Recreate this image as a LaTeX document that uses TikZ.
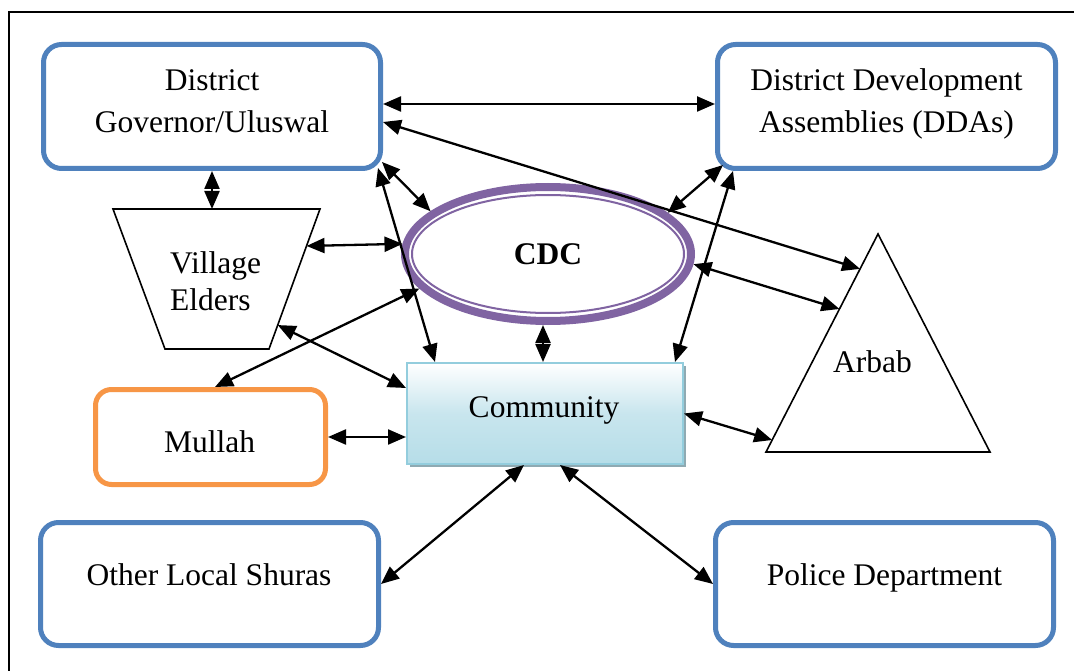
\documentclass[tikz,border=0pt]{standalone}
\usepackage{fontspec}
\setmainfont{Liberation Serif}
\usetikzlibrary{arrows.meta,calc,shadows,shapes.geometric}
\definecolor{boxblue}{HTML}{4F81BD}
\definecolor{mulorange}{HTML}{F79646}
\definecolor{cdcpurple}{HTML}{8064A2}
\definecolor{comborder}{HTML}{93CDDD}
\definecolor{combottom}{HTML}{B6DDE8}
\definecolor{comshadow}{HTML}{8FAAB2}
\begin{document}
\begin{tikzpicture}[x=1pt,y=-1pt,
  lbl/.style={inner sep=0pt, font=\fontsize{31.5}{42}\selectfont},
  bluebox/.style={draw=boxblue, line width=5pt, rounded corners=18pt, fill=white, inner sep=0pt},
  link/.style={line width=2.3pt, {Triangle[length=18pt,width=15pt]}-{Triangle[length=18pt,width=15pt]}},
  outline/.style={draw=black, line width=1.6pt, line join=miter}
]
\useasboundingbox (0,0) rectangle (1074,671);
\draw[line width=2pt] (9,671) -- (9,12) -- (1074,12);

% District Governor
\node[bluebox, minimum width=337pt, minimum height=124pt] (dg) at (212,106.5) {};
\node[lbl, align=center] (dgt) at (212,101.2) {District\\Governor/Uluswal};

% DDAs
\node[bluebox, minimum width=338pt, minimum height=124pt] (dda) at (886.5,106.5) {};
\node[lbl, align=center] (ddat) at (886.5,103.7) {District Development\\Assemblies (DDAs)};

% Other Local Shuras
\node[bluebox, minimum width=338pt, minimum height=123pt] (ols) at (209.5,584) {};
\node[lbl, anchor=base] (olst) at (209,585) {Other Local Shuras};

% Police Department
\node[bluebox, minimum width=338pt, minimum height=123pt] (pol) at (884.5,584) {};
\node[lbl, anchor=base] (polt) at (884.5,585) {Police Department};

% Mullah
\node[draw=mulorange, line width=5pt, rounded corners=16pt, fill=white, inner sep=0pt,
      minimum width=230pt, minimum height=95pt] (mul) at (210.5,437) {};
\node[lbl, anchor=base] (mult) at (209.5,452) {Mullah};

% Village Elders (trapezoid)
\coordinate (veTL) at (113,209);
\coordinate (veTR) at (320,209);
\coordinate (veBR) at (269,349);
\coordinate (veBL) at (165,349);
\draw[outline] (veTL) -- (veTR) -- (veBR) -- (veBL) -- cycle;
\node[lbl, align=left, anchor=west] (vet) at (170,281.1) {Village\\[-4.3pt]Elders};

% CDC
\node[draw=cdcpurple, line width=8pt, ellipse, fill=white, inner sep=0pt,
      minimum width=286pt, minimum height=134pt] (cdc) at (548,254) {};
\draw[cdcpurple, line width=2pt] (cdc.center) ellipse [x radius=136, y radius=59];
\node[lbl, anchor=base, font=\fontsize{31.5}{42}\selectfont\bfseries] (cdct) at (548,265) {CDC};

% Community
\node[draw=comborder, line width=2pt, top color=white, bottom color=combottom, middle color=combottom!75,
      inner sep=0pt, minimum width=276pt, minimum height=101pt,
      drop shadow={shadow xshift=3pt, shadow yshift=-3pt, fill=comshadow, opacity=1}] (com) at (545,413.5) {};
\node[lbl, anchor=base] (comt) at (544,417) {Community};

% Arbab (triangle)
\coordinate (arA) at (878,234);
\coordinate (arR) at (990,452);
\coordinate (arL) at (766,452);
\draw[outline] (arA) -- (arR) -- (arL) -- cycle;
\node[lbl, anchor=base] (art) at (872.5,372.7) {Arbab};

% Connectors
\draw[link] ([yshift=2.5pt]dg.east) -- ([yshift=2.5pt]dda.west);
\draw[link] ([yshift=-15.5pt]dg.east) -- ($(arA)!0.16!(arL)$);
\draw[link] (dg.south) -- (dg.south |- veTL);
\draw[link] ([xshift=-1pt,yshift=9pt]dg.south east) -- (cdc.160.9);
\draw[link] ([xshift=-5pt,yshift=3pt]dg.south east) -- ([xshift=29pt]com.north west);
\draw[link] ($(veTR)!0.264!(veBR)$) -- (cdc.176.8);
\draw[link] (cdc.195.7) -- ([xshift=4.5pt]mul.north);
\draw[link] ($(veTR)!0.829!(veBR)$) -- ([yshift=25.5pt]com.west);
\draw[link] (mul.east) -- (mul.east -| com.west);
\draw[link] ([xshift=-5pt]cdc.south) -- ([xshift=-2pt]com.north);
\draw[link] ([xshift=8pt,yshift=6pt]dda.south west) -- (cdc.19);
\draw[link] ([xshift=18pt]dda.south west) -- ([xshift=-9pt]com.north east);
\draw[link] (cdc.356.3) -- ($(arA)!0.344!(arL)$);
\draw[link] (com.east) -- ($(arA)!0.945!(arL)$);
\draw[link] ([xshift=-21pt]com.south) -- (ols.east);
\draw[link] ([xshift=15pt]com.south) -- (pol.west);
\end{tikzpicture}
\end{document}
